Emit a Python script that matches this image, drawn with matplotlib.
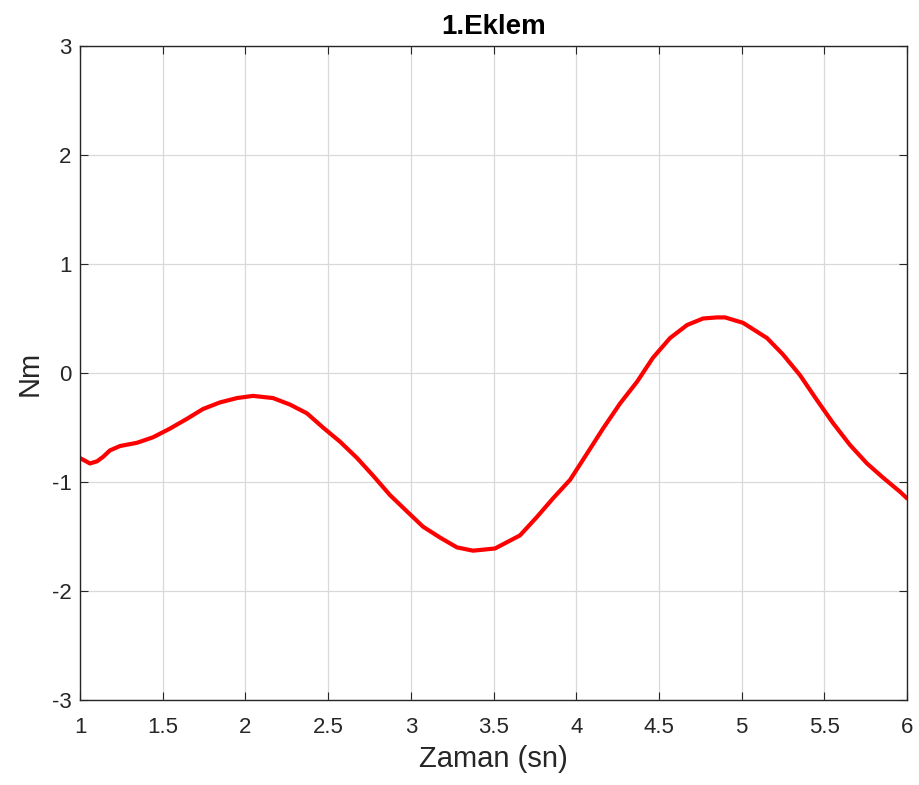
import matplotlib
matplotlib.use("Agg")
import matplotlib.pyplot as plt

plt.rcParams['font.family'] = ['Liberation Sans', 'DejaVu Sans']

time_s = [1.0, 1.060, 1.103, 1.139, 1.181, 1.242, 1.345, 1.441, 1.544, 1.647, 1.744,
          1.846, 1.949, 2.046, 2.167, 2.27, 2.372, 2.469, 2.572, 2.675, 2.771,
          2.874, 2.977, 3.074, 3.177, 3.279, 3.376, 3.509, 3.660, 3.763, 3.860,
          3.963, 4.065, 4.162, 4.265, 4.368, 4.464, 4.567, 4.670, 4.767, 4.851,
          4.900, 5.009, 5.154, 5.250, 5.353, 5.456, 5.553, 5.655, 5.758, 5.855,
          5.958, 6.0]
torque_nm = [-0.78, -0.83, -0.81, -0.77, -0.71, -0.67, -0.64, -0.59, -0.51, -0.42, -0.33,
             -0.27, -0.23, -0.21, -0.23, -0.29, -0.37, -0.50, -0.63, -0.78, -0.94,
             -1.12, -1.27, -1.41, -1.51, -1.60, -1.63, -1.61, -1.49, -1.32, -1.15,
             -0.98, -0.74, -0.51, -0.28, -0.08, 0.14, 0.32, 0.44, 0.50, 0.51,
             0.51, 0.46, 0.32, 0.17, -0.02, -0.25, -0.46, -0.66, -0.83, -0.96,
             -1.09, -1.15]

x_ticks = [1, 1.5, 2, 2.5, 3, 3.5, 4, 4.5, 5, 5.5, 6]
x_tick_labels = ['1', '1.5', '2', '2.5', '3', '3.5', '4', '4.5', '5', '5.5', '6']
y_ticks = [-3, -2, -1, 0, 1, 2, 3]
y_tick_labels = ['-3', '-2', '-1', '0', '1', '2', '3']

fig = plt.figure(figsize=(9.19, 7.85), dpi=100)
ax = fig.add_axes([80/919, 85/785, 827/919, 654/785])

ax.plot(time_s, torque_nm, color='#ff0000', linewidth=3.0,
        solid_capstyle='round', solid_joinstyle='round')

ax.set_xlim(1, 6)
ax.set_ylim(-3, 3)
ax.set_xticks(x_ticks)
ax.set_xticklabels(x_tick_labels)
ax.set_yticks(y_ticks)
ax.set_yticklabels(y_tick_labels)

ax.grid(True, color='#d9d9d9', linewidth=0.9)
ax.set_axisbelow(True)
ax.tick_params(direction='in', top=True, right=True, length=6, width=0.8,
               labelsize=16, colors='#262626')
ax.tick_params(axis='x', pad=12)
ax.tick_params(axis='y', pad=6)
for s in ax.spines.values():
    s.set_color('#262626')
    s.set_linewidth(1.0)

ax.set_xlabel('Zaman (sn)', fontsize=21, color='#262626', labelpad=5)
ax.set_ylabel('Nm', fontsize=21, color='#262626', labelpad=6)
ax.set_title('1.Eklem', fontsize=20, fontweight='bold', color='black', pad=9)

fig.savefig('out.png', dpi=100, facecolor='white')
